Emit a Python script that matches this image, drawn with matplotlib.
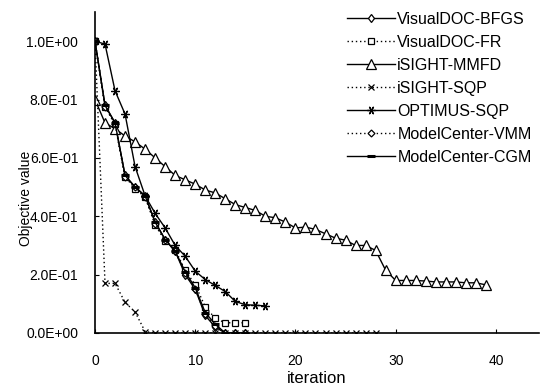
import matplotlib
matplotlib.use("Agg")
import matplotlib.pyplot as plt
from matplotlib.ticker import FuncFormatter

plt.rcParams['font.family'] = ['Liberation Sans', 'DejaVu Sans']

# ---- data ----
it_bfgs = list(range(16))
bfgs = [1.0, 0.78, 0.72, 0.54, 0.50, 0.47, 0.38, 0.32, 0.28, 0.20, 0.15, 0.06, 0.02, 0.0, 0.0, 0.0]

it_fr = list(range(16))
fr = [1.0, 0.775, 0.715, 0.535, 0.495, 0.465, 0.37, 0.315, 0.285, 0.215, 0.165, 0.09, 0.05, 0.035, 0.035, 0.035]

it_mmfd = list(range(40))
mmfd = [0.80, 0.72, 0.70, 0.675, 0.655, 0.63, 0.60, 0.57, 0.54, 0.525,
        0.51, 0.49, 0.48, 0.46, 0.44, 0.43, 0.42, 0.40, 0.395, 0.38,
        0.36, 0.363, 0.355, 0.34, 0.325, 0.318, 0.30, 0.30, 0.283, 0.215,
        0.18, 0.18, 0.18, 0.178, 0.175, 0.175, 0.175, 0.172, 0.172, 0.165]

it_isqp = list(range(29))
isqp = [1.0, 0.17, 0.17, 0.105, 0.072, 0.005] + [0.0] * 23

it_osqp = list(range(18))
osqp = [1.0, 0.99, 0.83, 0.75, 0.57, 0.47, 0.41, 0.36, 0.30, 0.263,
        0.212, 0.183, 0.163, 0.142, 0.108, 0.097, 0.095, 0.093]

it_vmm = list(range(16))
vmm = [1.0, 0.775, 0.715, 0.535, 0.50, 0.465, 0.375, 0.32, 0.28, 0.205, 0.15, 0.065, 0.025, 0.0, 0.0, 0.0]

it_cgm = list(range(16))
cgm = [1.0, 0.78, 0.72, 0.54, 0.50, 0.47, 0.38, 0.32, 0.28, 0.21, 0.155, 0.07, 0.03, 0.0, 0.0, 0.0]

labels = ["VisualDOC-BFGS", "VisualDOC-FR", "iSIGHT-MMFD", "iSIGHT-SQP",
          "OPTIMUS-SQP", "ModelCenter-VMM", "ModelCenter-CGM"]
xticks = [0, 10, 20, 30, 40]
yticks = [0.0, 0.2, 0.4, 0.6, 0.8, 1.0]

# ---- figure ----
fig = plt.figure(figsize=(5.41, 3.87), dpi=100)
ax = fig.add_axes([95 / 541, 1 - 333 / 387, 444 / 541, 321 / 387])

dot = (0, (1, 2))
common = dict(color='black', lw=1.0, mec='black', mew=0.9)

ax.plot(it_bfgs, bfgs, linestyle='-', marker='d', ms=4.5, mfc='white', label=labels[0], **common)
ax.plot(it_fr, fr, linestyle=dot, marker='s', ms=4.5, mfc='white', label=labels[1], **common)
ax.plot(it_mmfd, mmfd, linestyle='-', marker='^', ms=6.5, mfc='white', label=labels[2], **common)
ax.plot(it_isqp, isqp, linestyle=dot, marker='x', ms=5, label=labels[3], **common)
ax.plot(it_osqp, osqp, linestyle='-', marker=(6, 2, 90), ms=6, label=labels[4], **common)
ax.plot(it_vmm, vmm, linestyle=dot, marker='D', ms=3.5, mfc='white', label=labels[5], **common)
ax.plot(it_cgm, cgm, linestyle='-', marker='_', ms=6, mew=2.2, color='black', lw=1.0, mec='black', label=labels[6])

ax.set_xlim(0, 44.3)
ax.set_ylim(0, 1.1)
ax.set_xticks(xticks)
ax.set_yticks(yticks)
ax.yaxis.set_major_formatter(FuncFormatter(lambda v, p: f"{v:.1E}"))

for s in ['top', 'right']:
    ax.spines[s].set_visible(False)
for s in ['left', 'bottom']:
    ax.spines[s].set_linewidth(1.2)

ax.tick_params(axis='both', direction='in', length=3, width=0.8, labelsize=10)
ax.tick_params(axis='y', pad=12)
ax.tick_params(axis='x', pad=15)

ax.set_xlabel("iteration", fontsize=12, labelpad=2)
ax.set_ylabel("Objective value", fontsize=10)
ax.yaxis.set_label_coords(-0.14, 0.42)

leg = ax.legend(loc='upper left', bbox_to_anchor=(347 / 541, 1 - 12 / 387),
                bbox_transform=fig.transFigure, frameon=False, fontsize=11.5,
                handlelength=3.0, handletextpad=0.15, labelspacing=0.5,
                borderpad=0, borderaxespad=0, numpoints=1)

fig.savefig("out.png", dpi=100)
